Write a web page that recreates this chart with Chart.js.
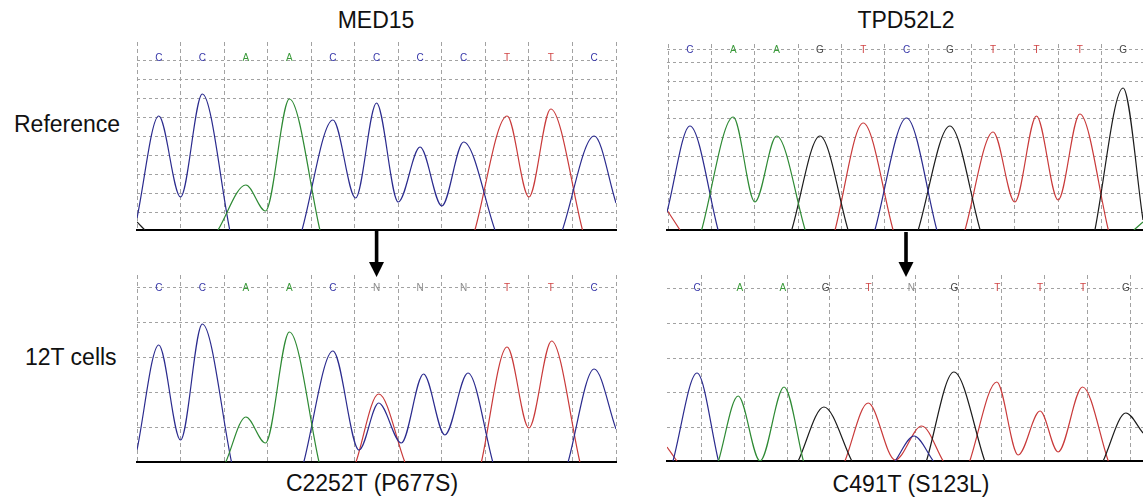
<!DOCTYPE html>
<html lang="en">
<head>
<meta charset="UTF-8">
<title>MED15 / TPD52L2 chromatograms</title>
<script src="https://cdn.jsdelivr.net/npm/chart.js@4.4.1/dist/chart.umd.min.js"></script>
<style>
    body {
        margin: 0;
        width: 1143px;
        height: 501px;
        overflow: hidden;
        background: #fff;
        position: relative;
        font-family: "Liberation Sans", Arial, sans-serif;
    }
    canvas { position: absolute; }
    .lbl {
        position: absolute;
        font-size: 23px;
        line-height: 26px;
        color: #111;
        white-space: nowrap;
    }
    .mid { width: 300px; text-align: center; }
</style>
</head>
<body>

<div class="lbl mid" style="left:226px; top:7px;">MED15</div>
<div class="lbl mid" style="left:756px; top:7px;">TPD52L2</div>
<div class="lbl" style="left:14px; top:111px;">Reference</div>
<div class="lbl" style="left:25px; top:344px;">12T cells</div>
<div class="lbl mid" style="left:222px; top:470px;">C2252T (P677S)</div>
<div class="lbl mid" style="left:761px; top:471px;">C491T (S123L)</div>

<canvas id="med15Ref" width="483" height="193" style="left:135px; top:40px;"></canvas>
<canvas id="tpdRef" width="478" height="191" style="left:665px; top:42px;"></canvas>
<canvas id="med15Mut" width="483" height="192" style="left:135px; top:273px;"></canvas>
<canvas id="tpdMut" width="478" height="191" style="left:665px; top:273px;"></canvas>

<svg width="1143" height="501" style="position:absolute; left:0; top:0; pointer-events:none;">
    <rect x="374.8" y="231" width="3.6" height="33" fill="#000"/>
    <polygon points="369,262 384,262 376.6,277" fill="#000"/>
    <rect x="904.2" y="232" width="3.6" height="32" fill="#000"/>
    <polygon points="898.5,262 913.5,262 906,277" fill="#000"/>
</svg>

<script>
// base calls (one letter per base position 0..10)
var med15RefBases = ['C', 'C', 'A', 'A', 'C', 'C', 'C', 'C', 'T', 'T', 'C'];
var med15MutBases = ['C', 'C', 'A', 'A', 'C', 'N', 'N', 'N', 'T', 'T', 'C'];
var tpdRefBases   = ['C', 'A', 'A', 'G', 'T', 'C', 'G', 'T', 'T', 'T', 'G'];
var tpdMutBases   = ['C', 'A', 'A', 'G', 'T', 'N', 'G', 'T', 'T', 'T', 'G'];

// traces: [base position, signal], split where a channel sits on the baseline
var med15RefC = [
    [[-0.5, 12], [0, 114], [0.5, 33], [1, 136], [1.63, 0]],
    [[3.29, 0], [4, 110], [4.52, 32], [5, 127], [5.5, 28], [6, 83], [6.5, 24], [7, 88], [7.72, 0]],
    [[9.27, 0], [10, 94], [10.5, 27]]
];
var med15RefA = [[[1.36, 0], [2, 45], [2.45, 19], [3, 131], [3.7, 0]]];
var med15RefT = [[[7.26, 0], [8, 114], [8.5, 33], [9, 121], [9.73, 0]]];
var med15RefG = [[[-0.5, 8], [-0.32, 0]]];

var tpdRefC = [
    [[-0.53, 18], [0, 104], [0.65, 0]],
    [[4.27, 0], [5, 112], [5.7, 0]]
];
var tpdRefA = [
    [[0.27, 0], [1, 113], [1.5, 28], [2, 94], [2.66, 0]],
    [[10.25, 0], [10.46, 8]]
];
var tpdRefG = [
    [[2.35, 0], [3, 94], [3.65, 0]],
    [[5.27, 0], [6, 104], [6.7, 0]],
    [[9.35, 0], [10, 142], [10.46, 10]]
];
var tpdRefT = [
    [[-0.53, 20], [-0.23, 0]],
    [[3.35, 0], [4, 107], [4.69, 0]],
    [[6.35, 0], [7, 98], [7.5, 28], [8, 114], [8.5, 30], [9, 116], [9.66, 0]]
];

var med15MutC = [
    [[-0.5, 12], [0, 117], [0.5, 22], [1, 138], [1.67, 0]],
    [[3.33, 0], [4, 111], [4.6, 12], [5.05, 59], [5.57, 19], [6.08, 88], [6.57, 27], [7.1, 89], [7.67, 0]],
    [[9.4, 0], [10, 93], [10.5, 33]]
];
var med15MutA = [[[1.54, 0], [2, 45], [2.45, 19], [3, 130], [3.68, 0]]];
var med15MutT = [
    [[4.53, 0], [5.05, 68], [5.65, 0]],
    [[7.41, 0], [8, 115], [8.5, 34], [9.02, 121], [9.67, 0]]
];
var med15MutG = [];

var tpdMutC = [
    [[-0.56, 0], [0, 88], [0.5, 0]],
    [[4.62, 0], [5.06, 25], [5.51, 0]]
];
var tpdMutA = [[[0.5, 0], [0.96, 65], [1.47, 0], [2.03, 74], [2.48, 0]]];
var tpdMutG = [
    [[2.36, 0], [2.96, 54], [3.61, 0]],
    [[5.35, 0], [5.99, 89], [6.71, 0]],
    [[9.47, 0], [10, 48], [10.4, 28]]
];
var tpdMutT = [
    [[-0.7, 14], [-0.47, 0]],
    [[3.45, 0], [3.99, 58], [4.62, 1], [5.24, 35], [5.74, 0]],
    [[6.36, 0], [6.99, 79], [7.49, 6], [8, 50], [8.42, 9], [8.99, 74], [9.59, 0]]
];

var traceColor = { C: '#2b2b8e', A: '#2e8a34', G: '#1c1c1c', T: '#c93a3a' };
var letterColor = { C: '#3535a8', A: '#3a9a3a', G: '#444444', T: '#d04545', N: '#8c8c8c' };

// draws the base call letters along the top row of each panel
var baseLetters = {
    id: 'baseLetters',
    afterDatasetsDraw: function (chart, args, opts) {
        var ctx = chart.ctx, x = chart.scales.x, y = chart.scales.y;
        ctx.save();
        ctx.font = '10px "Liberation Sans", Arial, sans-serif';
        ctx.textAlign = 'center';
        ctx.textBaseline = 'middle';
        opts.bases.forEach(function (b, i) {
            ctx.fillStyle = letterColor[b];
            ctx.fillText(b, x.getPixelForValue(i), y.getPixelForValue(opts.row));
        });
        ctx.restore();
    }
};

function gridValues(first, step, count) {
    var out = [];
    for (var k = 0; k < count; k++) out.push(first + step * k);
    return out;
}

function makeChart(id, p) {
    var datasets = [];
    ['A', 'C', 'G', 'T'].forEach(function (ch) {
        (p.traces[ch] || []).forEach(function (seg) {
            datasets.push({
                data: seg.map(function (pt) { return { x: pt[0], y: pt[1] }; }),
                borderColor: traceColor[ch],
                borderWidth: 1.2,
                pointRadius: 0,
                fill: false,
                cubicInterpolationMode: 'monotone'
            });
        });
    });

    var xLines = gridValues(p.gridOffset, 1, p.bases.length + 1);

    return new Chart(document.getElementById(id), {
        type: 'line',
        data: { datasets: datasets },
        plugins: [baseLetters],
        options: {
            responsive: false,
            animation: false,
            devicePixelRatio: 1,
            layout: { padding: p.padding },
            plugins: {
                legend: { display: false },
                tooltip: { enabled: false },
                baseLetters: { bases: p.bases, row: p.letterRow }
            },
            scales: {
                x: {
                    type: 'linear',
                    min: p.xMin,
                    max: p.xMax,
                    afterBuildTicks: function (s) { s.ticks = xLines.map(function (v) { return { value: v }; }); },
                    afterFit: function (s) { s.height = 0; },
                    ticks: { display: false },
                    grid: { color: '#a2a2a2', lineWidth: 1, drawTicks: false },
                    border: { display: true, color: '#000', width: 2, dash: [4, 3] }
                },
                y: {
                    min: 0,
                    max: p.yMax,
                    afterBuildTicks: function (s) { s.ticks = p.yLines.map(function (v) { return { value: v }; }); },
                    afterFit: function (s) { s.width = 0; },
                    ticks: { display: false },
                    grid: { color: '#a2a2a2', lineWidth: 1, drawTicks: false },
                    border: { display: false, dash: [3, 3] }
                }
            }
        }
    });
}

makeChart('med15Ref', {
    bases: med15RefBases,
    traces: { C: med15RefC, A: med15RefA, T: med15RefT, G: med15RefG },
    xMin: -0.5, xMax: 10.5, gridOffset: -0.5,
    yMax: 188, yLines: gridValues(17.5, 18.95, 9), letterRow: 172,
    padding: { left: 2, right: 2, top: 2, bottom: 3 }
});

makeChart('tpdRef', {
    bases: tpdRefBases,
    traces: { C: tpdRefC, A: tpdRefA, T: tpdRefT, G: tpdRefG },
    xMin: -0.53, xMax: 10.46, gridOffset: -0.5,
    yMax: 186, yLines: gridValues(17.3, 18.75, 9).concat([180.7]), letterRow: 180,
    padding: { left: 2, right: 0, top: 2, bottom: 3 }
});

makeChart('med15Mut', {
    bases: med15MutBases,
    traces: { C: med15MutC, A: med15MutA, T: med15MutT, G: med15MutG },
    xMin: -0.5, xMax: 10.5, gridOffset: -0.5,
    yMax: 187, yLines: gridValues(34.6, 35.1, 5), letterRow: 174,
    padding: { left: 2, right: 2, top: 2, bottom: 3 }
});

makeChart('tpdMut', {
    bases: tpdMutBases,
    traces: { C: tpdMutC, A: tpdMutA, T: tpdMutT, G: tpdMutG },
    xMin: -0.7, xMax: 10.4, gridOffset: 0.1,
    yMax: 186, yLines: gridValues(33.4, 34.75, 5), letterRow: 173,
    padding: { left: 2, right: 0, top: 2, bottom: 3 }
});
</script>
</body>
</html>
